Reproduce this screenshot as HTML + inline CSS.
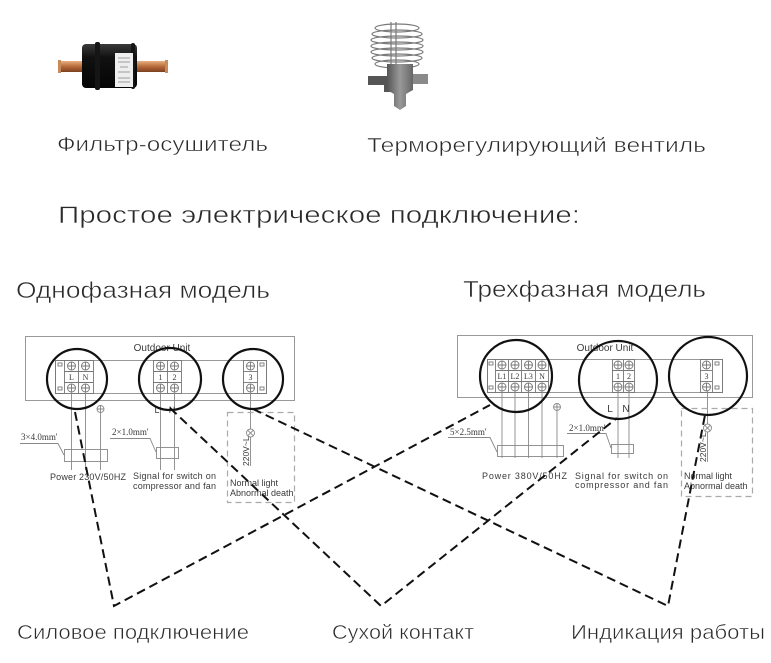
<!DOCTYPE html>
<html><head><meta charset="utf-8"><style>
html,body{margin:0;padding:0;background:#fff;}
svg{display:block;}
.t{font-family:"Liberation Sans","Noto Sans CJK SC",sans-serif;fill:#2a2a2a;stroke:#fff;stroke-width:0.5px;}
.d{font-family:"Liberation Sans",sans-serif;fill:#3a3a3a;}
.s{font-family:"Liberation Serif",serif;fill:#3a3a3a;}
</style></head><body>
<svg width="771" height="663" viewBox="0 0 771 663" xmlns="http://www.w3.org/2000/svg">
<defs>
<linearGradient id="cu" x1="0" y1="0" x2="0" y2="1"><stop offset="0" stop-color="#e8b080"/><stop offset=".5" stop-color="#b86a3a"/><stop offset="1" stop-color="#7a4020"/></linearGradient>
<linearGradient id="bd" x1="0" y1="0" x2="0" y2="1"><stop offset="0" stop-color="#3a3a3a"/><stop offset=".3" stop-color="#111"/><stop offset="1" stop-color="#050505"/></linearGradient>
<linearGradient id="vb" x1="0" y1="0" x2="1" y2="0"><stop offset="0" stop-color="#555"/><stop offset=".5" stop-color="#999"/><stop offset="1" stop-color="#666"/></linearGradient>
</defs>

<!-- Filter drier -->
<rect x="58" y="61" width="26" height="11" fill="url(#cu)"/>
<rect x="58" y="60" width="3" height="13" fill="#c98a5a"/>
<rect x="135" y="61" width="33" height="11" fill="url(#cu)"/>
<rect x="165" y="60" width="3" height="13" fill="#c98a5a"/>
<rect x="82" y="44" width="55" height="44" rx="4" fill="url(#bd)"/>
<rect x="95" y="42" width="5" height="48" rx="2" fill="#151515"/>
<rect x="131" y="43" width="4" height="46" rx="2" fill="#151515"/>
<rect x="115" y="53" width="18" height="34" fill="#eeeeee"/>
<g stroke="#888" stroke-width="0.8"><line x1="118" y1="58" x2="130" y2="58"/><line x1="118" y1="62" x2="130" y2="62"/><line x1="120" y1="67" x2="128" y2="67"/><line x1="118" y1="72" x2="130" y2="72"/><line x1="118" y1="78" x2="130" y2="78"/><line x1="118" y1="82" x2="130" y2="82"/></g>

<!-- Expansion valve -->
<g fill="none" stroke="#7a7a7a" stroke-width="1.2">
<ellipse cx="397" cy="28" rx="22" ry="4"/><ellipse cx="397" cy="34" rx="25" ry="4"/><ellipse cx="397" cy="40" rx="26" ry="4"/><ellipse cx="397" cy="46" rx="26" ry="4"/><ellipse cx="397" cy="52" rx="26" ry="4"/><ellipse cx="397" cy="58" rx="25" ry="4"/><ellipse cx="397" cy="64" rx="22" ry="4"/>
<line x1="391" y1="22" x2="391" y2="68"/><line x1="396" y1="22" x2="396" y2="68"/>
</g>
<rect x="413" y="74" width="15" height="10" fill="#8a8a8a"/>
<rect x="368" y="76" width="20" height="9" fill="#555"/>
<rect x="384" y="83" width="7" height="9" fill="#555"/>
<path d="M387 64 L413 64 L413 90 L406 94 L406 106 L400 110 L394 106 L394 94 L387 90 Z" fill="url(#vb)"/>

<!-- Headings -->
<text class="t" x="57" y="151" font-size="20" textLength="211" lengthAdjust="spacingAndGlyphs">Фильтр-осушитель</text>
<text class="t" x="367" y="152" font-size="20" textLength="339" lengthAdjust="spacingAndGlyphs">Терморегулирующий вентиль</text>
<text class="t" x="58" y="223" font-size="24" textLength="522" lengthAdjust="spacingAndGlyphs">Простое электрическое подключение:</text>
<text class="t" x="16" y="298" font-size="23" textLength="254" lengthAdjust="spacingAndGlyphs">Однофазная модель</text>
<text class="t" x="463" y="297" font-size="23" textLength="243" lengthAdjust="spacingAndGlyphs">Трехфазная модель</text>

<!-- ============ LEFT DIAGRAM ============ -->
<g fill="none" stroke="#999" stroke-width="1">
<rect x="25.5" y="336.5" width="269" height="64"/>
<rect x="55.5" y="360.5" width="211" height="33"/>
</g>
<text class="d" x="162" y="351" font-size="10" text-anchor="middle">Outdoor Unit</text>
<g fill="none" stroke="#777" stroke-width="0.9">
<rect x="55.5" y="360.5" width="38" height="33"/>
<line x1="64.5" y1="360" x2="64.5" y2="393"/><line x1="78.5" y1="360" x2="78.5" y2="393"/>
<line x1="64" y1="371.5" x2="93" y2="371.5"/><line x1="64" y1="382.5" x2="93" y2="382.5"/>
<rect x="58" y="363" width="4" height="3"/><rect x="58" y="387" width="4" height="3"/>
<circle cx="71.5" cy="366" r="4"/><circle cx="85.5" cy="366" r="4"/><circle cx="71.5" cy="388" r="4"/><circle cx="85.5" cy="388" r="4"/>
<path d="M67.5 366h8M71.5 362v8M81.5 366h8M85.5 362v8M67.5 388h8M71.5 384v8M81.5 388h8M85.5 384v8"/>
<rect x="153.5" y="360.5" width="28" height="33"/>
<line x1="167.5" y1="360" x2="167.5" y2="393"/>
<line x1="153" y1="371.5" x2="181" y2="371.5"/><line x1="153" y1="382.5" x2="181" y2="382.5"/>
<circle cx="160.5" cy="366" r="4"/><circle cx="174.5" cy="366" r="4"/><circle cx="160.5" cy="388" r="4"/><circle cx="174.5" cy="388" r="4"/>
<path d="M156.5 366h8M160.5 362v8M170.5 366h8M174.5 362v8M156.5 388h8M160.5 384v8M170.5 388h8M174.5 384v8"/>
<rect x="243.5" y="360.5" width="23" height="33"/>
<line x1="257.5" y1="360" x2="257.5" y2="393"/>
<line x1="243" y1="371.5" x2="257" y2="371.5"/><line x1="243" y1="382.5" x2="257" y2="382.5"/>
<rect x="260" y="363" width="4" height="3"/><rect x="260" y="387" width="4" height="3"/>
<circle cx="250.5" cy="366" r="4"/><circle cx="250.5" cy="388" r="4"/>
<path d="M246.5 366h8M250.5 362v8M246.5 388h8M250.5 384v8"/>
</g>
<g class="s" font-size="8" text-anchor="middle"><text x="71.5" y="380">L</text><text x="85.5" y="380">N</text><text x="160.5" y="380">1</text><text x="174.5" y="380">2</text><text x="250.5" y="380">3</text></g>
<g stroke="#888" stroke-width="0.9" fill="none">
<line x1="71.5" y1="392" x2="71.5" y2="470"/><line x1="85.5" y1="392" x2="85.5" y2="470"/>
<line x1="100.5" y1="413" x2="100.5" y2="470"/>
<circle cx="100.5" cy="409" r="3.5"/><path d="M97 409h7M100.5 405.5v7"/>
<rect x="64.5" y="449.5" width="43" height="12"/>
<path d="M20 443.5 H58 L64 455"/>
<line x1="160.5" y1="392" x2="160.5" y2="470"/><line x1="174.5" y1="392" x2="174.5" y2="470"/>
<rect x="156.5" y="447.5" width="22" height="11"/>
<path d="M110 438.5 H150 L156 452"/>
<line x1="250.5" y1="392" x2="250.5" y2="429"/><line x1="250.5" y1="437" x2="250.5" y2="466"/>
<circle cx="250.5" cy="433" r="4"/><path d="M247.7 430.2l5.6 5.6M253.3 430.2l-5.6 5.6"/>
</g>
<rect x="227.5" y="412.5" width="67" height="90" fill="none" stroke="#aaa" stroke-width="1.2" stroke-dasharray="6 4"/>
<text class="s" x="21" y="440" font-size="9">3×4.0mm'</text>
<text class="s" x="112" y="435" font-size="9">2×1.0mm'</text>
<text class="d" x="157" y="413" font-size="9" text-anchor="middle">L</text>
<text class="d" x="172" y="413" font-size="9" text-anchor="middle">N</text>
<text class="d" x="50" y="480" font-size="9" textLength="76" lengthAdjust="spacing">Power 230V/50HZ</text>
<text class="d" x="133" y="479" font-size="9" textLength="83" lengthAdjust="spacing">Signal for switch on</text>
<text class="d" x="133" y="489" font-size="9" textLength="83" lengthAdjust="spacing">compressor and fan</text>
<text class="d" x="230" y="486" font-size="9">Normal light</text>
<text class="d" x="230" y="496" font-size="9">Abnormal death</text>
<text class="d" font-size="8.5" transform="translate(249,466) rotate(-90)">220V~L</text>

<!-- ============ RIGHT DIAGRAM ============ -->
<g fill="none" stroke="#999" stroke-width="1">
<rect x="457.5" y="335.5" width="295" height="62"/>
<rect x="487.5" y="359.5" width="235" height="33"/>
</g>
<text class="d" x="605" y="351" font-size="10" text-anchor="middle">Outdoor Unit</text>
<g fill="none" stroke="#777" stroke-width="0.9">
<rect x="487.5" y="359.5" width="61" height="33"/>
<line x1="495.5" y1="359" x2="495.5" y2="392"/><line x1="508.5" y1="359" x2="508.5" y2="392"/><line x1="521.5" y1="359" x2="521.5" y2="392"/><line x1="535.5" y1="359" x2="535.5" y2="392"/>
<line x1="495" y1="370.5" x2="548" y2="370.5"/><line x1="495" y1="381.5" x2="548" y2="381.5"/>
<rect x="489" y="362" width="4" height="3"/><rect x="489" y="386" width="4" height="3"/>
<circle cx="502" cy="365" r="4"/><circle cx="515" cy="365" r="4"/><circle cx="528.5" cy="365" r="4"/><circle cx="542" cy="365" r="4"/>
<circle cx="502" cy="387" r="4"/><circle cx="515" cy="387" r="4"/><circle cx="528.5" cy="387" r="4"/><circle cx="542" cy="387" r="4"/>
<path d="M498 365h8M502 361v8M511 365h8M515 361v8M524.5 365h8M528.5 361v8M538 365h8M542 361v8M498 387h8M502 383v8M511 387h8M515 383v8M524.5 387h8M528.5 383v8M538 387h8M542 383v8"/>
<rect x="612.5" y="359.5" width="22" height="33"/>
<line x1="623.5" y1="359" x2="623.5" y2="392"/>
<line x1="612" y1="370.5" x2="634" y2="370.5"/><line x1="612" y1="381.5" x2="634" y2="381.5"/>
<circle cx="618" cy="365" r="4"/><circle cx="629" cy="365" r="4"/><circle cx="618" cy="387" r="4"/><circle cx="629" cy="387" r="4"/>
<path d="M614 365h8M618 361v8M625 365h8M629 361v8M614 387h8M618 383v8M625 387h8M629 383v8"/>
<rect x="700.5" y="359.5" width="22" height="33"/>
<line x1="712.5" y1="359" x2="712.5" y2="392"/>
<line x1="700" y1="370.5" x2="712" y2="370.5"/><line x1="700" y1="381.5" x2="712" y2="381.5"/>
<rect x="715" y="362" width="4" height="3"/><rect x="715" y="386" width="4" height="3"/>
<circle cx="706.5" cy="365" r="4"/><circle cx="706.5" cy="387" r="4"/>
<path d="M702.5 365h8M706.5 361v8M702.5 387h8M706.5 383v8"/>
</g>
<g class="s" font-size="8" text-anchor="middle"><text x="502" y="379">L1</text><text x="515" y="379">L2</text><text x="528.5" y="379">L3</text><text x="542" y="379">N</text><text x="618" y="379">1</text><text x="629" y="379">2</text><text x="706.5" y="379">3</text></g>
<g stroke="#888" stroke-width="0.9" fill="none">
<line x1="502" y1="391" x2="502" y2="458"/><line x1="515" y1="391" x2="515" y2="458"/><line x1="528.5" y1="391" x2="528.5" y2="458"/><line x1="542" y1="391" x2="542" y2="458"/>
<line x1="557" y1="411" x2="557" y2="458"/>
<circle cx="557" cy="407" r="3.5"/><path d="M553.5 407h7M557 403.5v7"/>
<rect x="497.5" y="445.5" width="66" height="11"/>
<path d="M448 437.5 H490 L497 452"/>
<line x1="618" y1="391" x2="618" y2="458"/><line x1="629" y1="391" x2="629" y2="458"/>
<rect x="611.5" y="444.5" width="22" height="9"/>
<path d="M567 433.5 H606 L611 448"/>
<line x1="707.5" y1="391" x2="707.5" y2="424"/><line x1="707.5" y1="432" x2="707.5" y2="462"/>
<circle cx="707.5" cy="428" r="4"/><path d="M704.7 425.2l5.6 5.6M710.3 425.2l-5.6 5.6"/>
</g>
<rect x="681.5" y="408.5" width="71" height="88" fill="none" stroke="#aaa" stroke-width="1.2" stroke-dasharray="6 4"/>
<text class="s" x="450" y="435" font-size="9">5×2.5mm'</text>
<text class="s" x="569" y="431" font-size="9">2×1.0mm'</text>
<text class="d" x="610" y="412" font-size="10" text-anchor="middle">L</text>
<text class="d" x="626" y="412" font-size="10" text-anchor="middle">N</text>
<text class="d" x="482" y="479" font-size="9" textLength="85" lengthAdjust="spacing">Power 380V/50HZ</text>
<text class="d" x="575" y="479" font-size="9" textLength="93" lengthAdjust="spacing">Signal for switch on</text>
<text class="d" x="575" y="488" font-size="9" textLength="93" lengthAdjust="spacing">compressor and fan</text>
<text class="d" x="684" y="479" font-size="9">Normal light</text>
<text class="d" x="684" y="489" font-size="9">Abnormal death</text>
<text class="d" font-size="8.5" transform="translate(706,462) rotate(-90)">220V~L</text>

<!-- Circles -->
<g fill="none" stroke="#111" stroke-width="2.2">
<circle cx="77" cy="379" r="30"/>
<circle cx="170" cy="379" r="31"/>
<circle cx="253" cy="379" r="30"/>
<circle cx="516" cy="376" r="36"/>
<circle cx="618" cy="380" r="39"/>
<circle cx="708" cy="376" r="39"/>
</g>

<!-- Dashed connectors -->
<g fill="none" stroke="#111" stroke-width="2" stroke-dasharray="9 5">
<polyline points="75,412 114,606 490,405"/>
<polyline points="170,408 381,606 617,418"/>
<polyline points="253,409 668,606 705,415"/>
</g>

<!-- Bottom labels -->
<text class="t" x="17" y="639" font-size="20" textLength="232" lengthAdjust="spacingAndGlyphs">Силовое подключение</text>
<text class="t" x="332" y="639" font-size="20" textLength="142" lengthAdjust="spacingAndGlyphs">Сухой контакт</text>
<text class="t" x="571" y="639" font-size="20" textLength="194" lengthAdjust="spacingAndGlyphs">Индикация работы</text>
</svg>
</body></html>
